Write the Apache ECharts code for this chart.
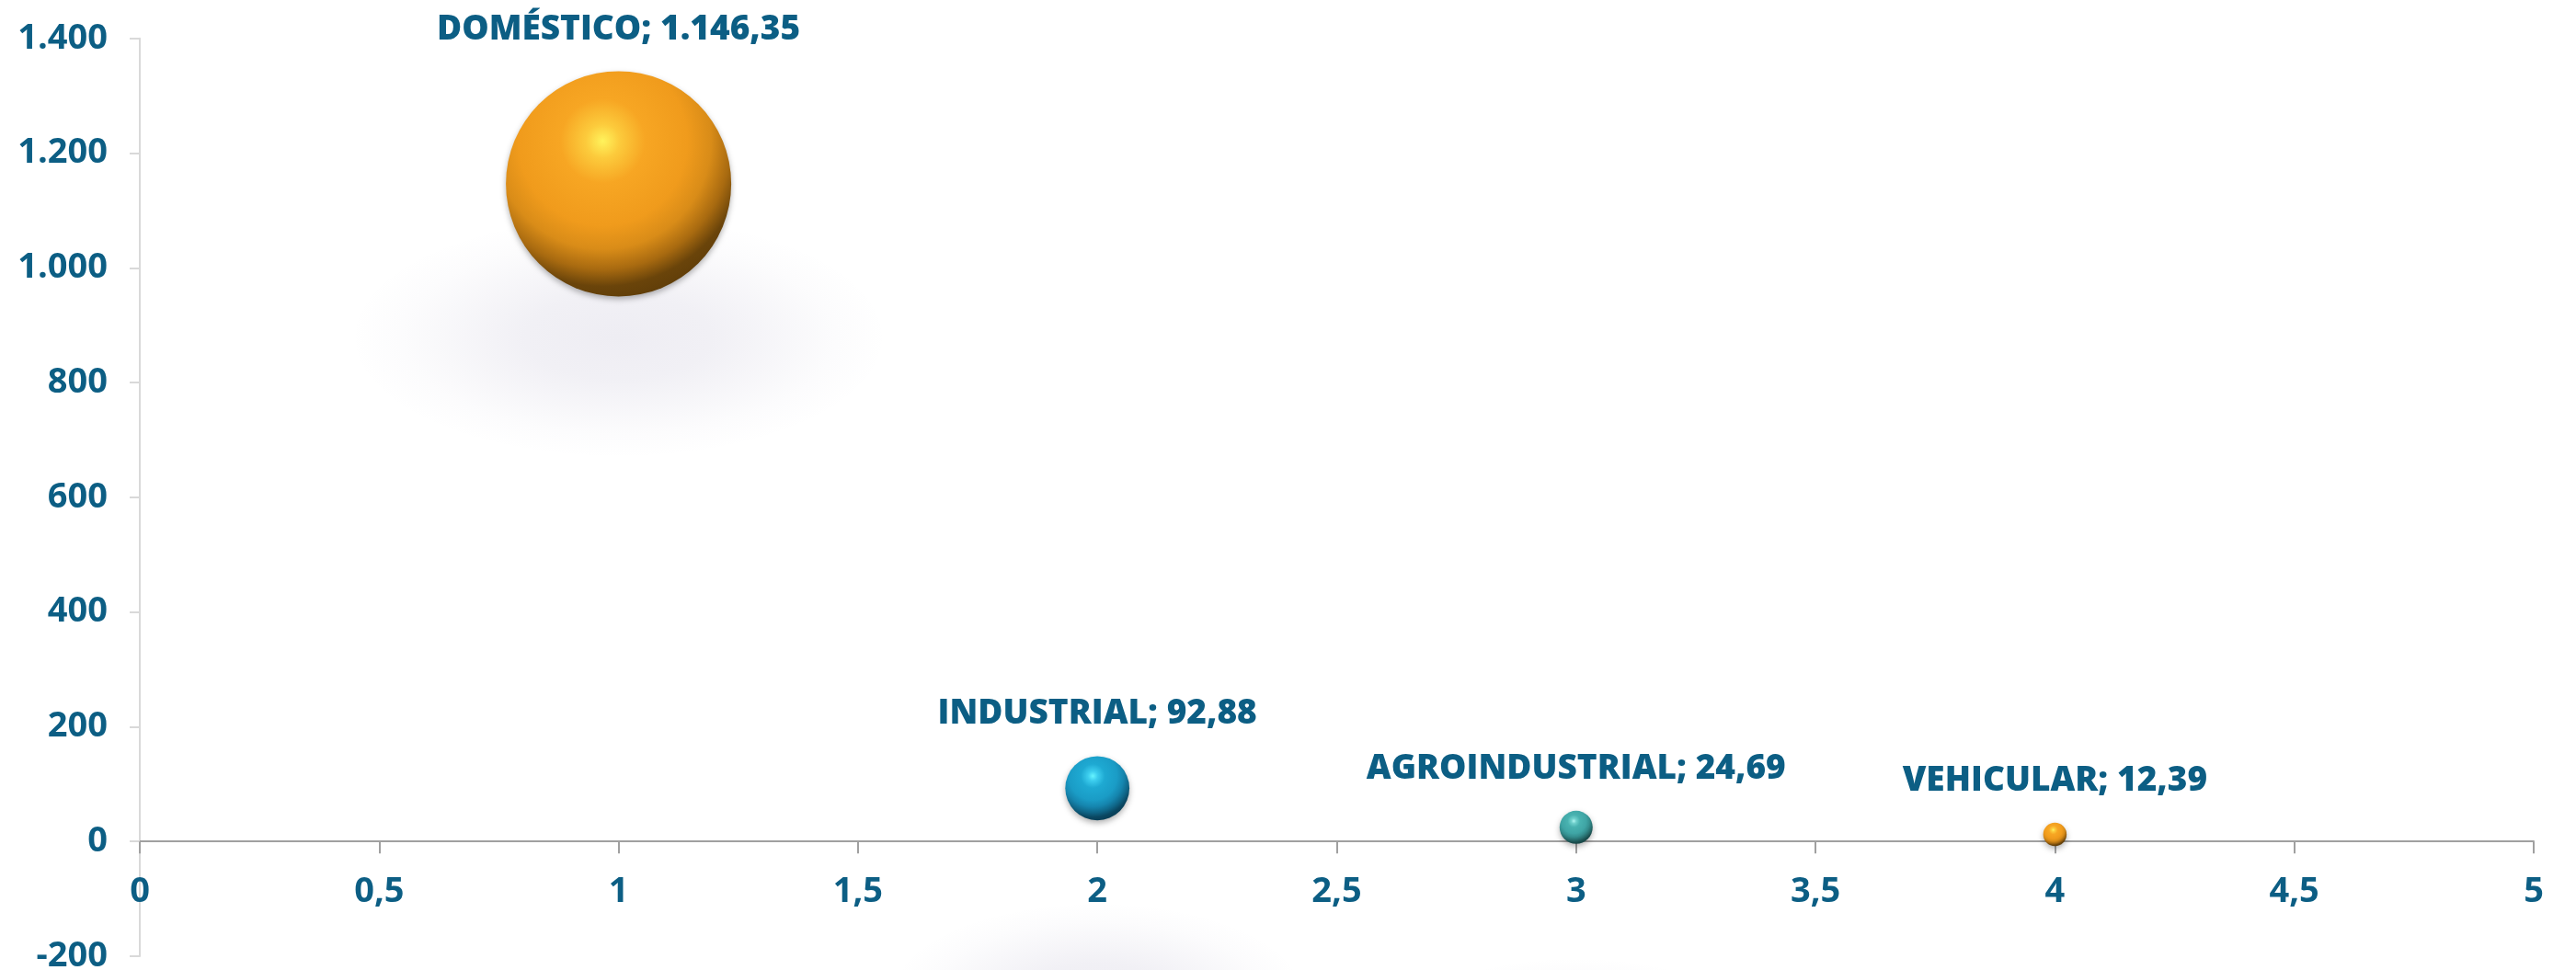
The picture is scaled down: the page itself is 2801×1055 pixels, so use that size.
<!DOCTYPE html>
<html>
<head>
<meta charset="utf-8">
<script src="https://cdn.jsdelivr.net/npm/echarts@6/dist/echarts.min.js"></script>
<style>
html,body{margin:0;padding:0;background:#fff;}
#chart{width:2801px;height:1055px;}
</style>
</head>
<body>
<div id="chart"></div>
<script>
const categories = ['DOMÉSTICO', 'INDUSTRIAL', 'AGROINDUSTRIAL', 'VEHICULAR'];
const xValues = [1, 2, 3, 4];
const yValues = [1146.35, 92.88, 24.69, 12.39];
const bubbleSizes = [1146.35, 92.88, 24.69, 12.39];
const yTickValues = [-200, 0, 200, 400, 600, 800, 1000, 1200, 1400];
const xTickValues = [0, 0.5, 1, 1.5, 2, 2.5, 3, 3.5, 4, 4.5, 5];

const TEXT = '#0C5E84';
const FONT = 'Open Sans';
const W = 2801, H = 1055;
const GRID = { left: 152, right: 46, top: 41.7, bottom: 15 };
const Y_MIN = yTickValues[0], Y_MAX = yTickValues[yTickValues.length - 1];
const X_MIN = xTickValues[0], X_MAX = xTickValues[xTickValues.length - 1];

const palettes = [
  ['#FFF35C', '#FCCB3C', '#F7A623', '#F09B1C', '#D98C18', '#A86A10', '#6A440A', '#5A3A08'],
  ['#66F4FF', '#3CCDEE', '#1EA9D2', '#1A9CC6', '#1585AE', '#0F6688', '#0A4660', '#083A50'],
  ['#B0F6F2', '#6FD0CC', '#48B2B0', '#3FA5A5', '#348E8E', '#276D6D', '#1A4E4E', '#154242']
];
const paletteIdx = [0, 1, 2, 0];
const stopOffsets = [0, 0.1, 0.25, 0.5, 0.64, 0.76, 0.86, 1];

const sizeScale = 245 / Math.sqrt(1146.35);
function diam(v) { return sizeScale * Math.sqrt(v); }

function fmtNum(v, dec) {
  const parts = v.toFixed(dec).split('.');
  parts[0] = parts[0].replace(/\B(?=(\d{3})+(?!\d))/g, '.');
  return parts.length > 1 ? parts[0] + ',' + parts[1] : parts[0];
}

const bubbleData = categories.map((c, i) => {
  const p = palettes[paletteIdx[i]];
  return {
    name: c,
    value: [xValues[i], yValues[i], bubbleSizes[i]],
    itemStyle: {
      color: {
        type: 'radial', x: 0.43, y: 0.31, r: 0.75,
        colorStops: p.map((col, k) => ({ offset: stopOffsets[k], color: col }))
      }
    }
  };
});

const SH = 'rgba(100,90,145,';
const shadowData = categories.map((c, i) => {
  const d = diam(bubbleSizes[i]);
  const w = 400 + 0.75 * d;
  const h = 0.45 * w;
  const off = 250 - 0.34 * d;
  return {
    name: c,
    value: [xValues[i], yValues[i]],
    symbolSize: [w, h],
    symbolOffset: [0, off]
  };
});

const plotH = H - GRID.top - GRID.bottom;
const xAxisOffset = -plotH * (0 - Y_MIN) / (Y_MAX - Y_MIN);

const chart = echarts.init(document.getElementById('chart'), null, { renderer: 'canvas' });
chart.setOption({
  backgroundColor: '#ffffff',
  animation: false,
  grid: Object.assign({ containLabel: false, outerBoundsMode: 'none' }, GRID),
  xAxis: {
    type: 'value', min: X_MIN, max: X_MAX, interval: 0.5,
    position: 'bottom',
    offset: xAxisOffset,
    axisLine: { show: true, onZero: false, lineStyle: { color: '#A0A0A0', width: 2 } },
    axisTick: { show: true, length: 13, lineStyle: { color: '#A0A0A0', width: 2 } },
    splitLine: { show: false },
    axisLabel: {
      margin: 36, color: TEXT, fontFamily: FONT, fontWeight: 'bold', fontSize: 38,
      formatter: v => fmtNum(v, v % 1 === 0 ? 0 : 1)
    }
  },
  yAxis: {
    type: 'value', min: Y_MIN, max: Y_MAX, interval: 200,
    axisLine: { show: true, onZero: false, lineStyle: { color: '#D9D9D9', width: 2 } },
    axisTick: { show: true, length: 11, lineStyle: { color: '#D9D9D9', width: 2 } },
    splitLine: { show: false },
    axisLabel: {
      margin: 35, color: TEXT, fontFamily: FONT, fontWeight: 'bold', fontSize: 38,
      formatter: v => fmtNum(v, 0)
    }
  },
  series: [
    {
      type: 'scatter',
      name: 'shadow',
      silent: true,
      clip: false,
      z: 1,
      symbol: 'circle',
      data: shadowData,
      itemStyle: {
        opacity: 1,
        color: {
          type: 'radial', x: 0.5, y: 0.5, r: 0.5,
          colorStops: [
            { offset: 0, color: SH + '0.11)' },
            { offset: 0.35, color: SH + '0.09)' },
            { offset: 0.6, color: SH + '0.05)' },
            { offset: 0.8, color: SH + '0.02)' },
            { offset: 1, color: SH + '0)' }
          ]
        }
      },
      label: { show: false }
    },
    {
      type: 'scatter',
      name: 'bubbles',
      z: 3,
      clip: false,
      symbol: 'circle',
      symbolSize: val => diam(val[2]),
      data: bubbleData,
      itemStyle: {
        opacity: 1,
        shadowColor: 'rgba(0,0,0,0.3)',
        shadowBlur: 6,
        shadowOffsetY: 3
      },
      label: {
        show: true,
        position: 'top',
        distance: 27,
        color: TEXT,
        fontFamily: FONT,
        fontWeight: 800,
        fontSize: 37,
        formatter: p => p.name + '; ' + fmtNum(p.value[1], 2)
      }
    }
  ]
});
</script>
</body>
</html>
